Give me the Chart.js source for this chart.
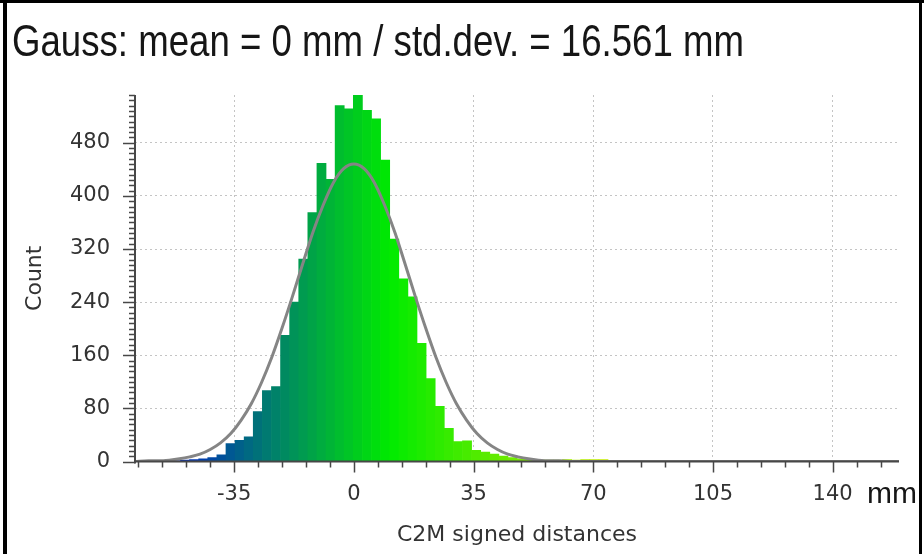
<!DOCTYPE html>
<html>
<head>
<meta charset="utf-8">
<title>C2M histogram</title>
<script src="https://cdn.jsdelivr.net/npm/chart.js@4.4.1/dist/chart.umd.min.js"></script>
<style>
  html, body { margin: 0; padding: 0; background: #fff; }
  #wrap { width: 924px; height: 554px; }
</style>
</head>
<body>
<div id="wrap"><canvas id="hist" width="924" height="554"></canvas></div>
<script>
// histogram bins (mm): first bin starts at binStart, every bin is binWidth wide
var binStart = -64;
var binWidth = 2.66;
var counts = [
  1, 1, 1, 1, 1, 2, 3, 4, 6, 10,
  27, 32, 37, 75, 107, 113, 190, 240, 305, 375,
  449, 425, 536, 531, 552, 529, 516, 454, 335, 275,
  248, 178, 125, 83, 50, 30, 31, 17, 14, 11,
  8, 6, 4, 3, 2, 2, 2, 3, 2, 3,
  3, 3, 1, 1, 1, 1, 1, 1, 1, 1,
  1, 1, 0, 1, 1, 1, 1, 0, 1, 1,
  1, 1, 1, 0, 1, 1, 0, 1, 1, 1,
  1, 1, 1, 1
];

// gauss curve (mm -> count)
var gaussX = [-64, -60, -57, -54, -51, -48, -45, -42, -39, -36, -33, -30, -27, -24, -21, -18, -15, -12, -9, -6, -3,
  0, 3, 6, 9, 12, 15, 18, 21, 24, 27, 30, 33, 36, 39, 42, 45, 48, 51, 54, 57, 60, 64, 80, 100, 120, 140, 159.4];
var gaussY = [0, 1, 1, 2, 4, 7, 11, 18, 28, 42, 62, 87, 119, 157, 201, 248, 297, 345, 386, 420, 441,
  448, 441, 420, 386, 345, 297, 248, 201, 157, 119, 87, 62, 42, 28, 18, 11, 7, 4, 2, 1, 1, 0, 0, 0, 0, 0, 0];

var xTicks = [-35, 0, 35, 70, 105, 140];
var yTicks = [0, 80, 160, 240, 320, 400, 480];
var titleText = "Gauss: mean = 0 mm / std.dev. = 16.561 mm";

var xMin = -64, xMax = 159.4, yMax = 552;

// blue > green > yellow > red colour scale over the whole range
function bgyr(v) {
  var t = (v - xMin) / (xMax - xMin);
  t = Math.max(0, Math.min(1, t));
  var stops = [[0, 0, 255], [0, 255, 0], [255, 255, 0], [255, 0, 0]];
  var s = t * 3;
  var k = Math.min(2, Math.floor(s));
  var f = s - k;
  var a = stops[k], b = stops[k + 1];
  var c = [0, 1, 2].map(function(j) { return Math.round((a[j] + (b[j] - a[j]) * f) * 0.92); });
  return "rgb(" + c.join(",") + ")";
}

var bars = [];
var barColors = [];
for (var i = 0; i < counts.length; i++) {
  var mid = binStart + binWidth * (i + 0.5);
  bars.push({ x: mid, y: counts[i] });
  barColors.push(bgyr(mid));
}
var gauss = gaussX.map(function(x, i) { return { x: x, y: gaussY[i] }; });

var axisFont = { family: "DejaVu Sans", size: 21 };

var decor = {
  id: "decor",
  beforeDraw: function(chart) {
    var ctx = chart.ctx;
    ctx.save();
    ctx.fillStyle = "#fff";
    ctx.fillRect(0, 0, chart.width, chart.height);
    ctx.restore();
  },
  afterDatasetsDraw: function(chart) {
    var ctx = chart.ctx;
    var a = chart.chartArea;
    var sx = chart.scales.x, sy = chart.scales.y;
    ctx.save();
    ctx.strokeStyle = "#474747";
    ctx.lineWidth = 2;
    ctx.beginPath();
    ctx.moveTo(a.left, a.bottom);
    ctx.lineTo(a.right, a.bottom);
    ctx.moveTo(a.left, a.bottom + 2);
    ctx.lineTo(a.left, a.top);
    ctx.stroke();

    ctx.lineWidth = 1.5;
    ctx.beginPath();
    // x ticks: minor every 7 mm, major at labels
    for (var v = -63; v <= xMax; v += 7) {
      var px = Math.round(sx.getPixelForValue(v)) + 0.5;
      var len = xTicks.indexOf(v) >= 0 ? 11 : 6;
      ctx.moveTo(px, a.bottom);
      ctx.lineTo(px, a.bottom + len);
    }
    // y ticks: minor every 8, major at labels
    for (var w = 0; w <= yMax; w += 8) {
      var py = Math.round(sy.getPixelForValue(w)) + 0.5;
      var l2 = yTicks.indexOf(w) >= 0 ? 12 : 6;
      ctx.moveTo(a.left - l2, py);
      ctx.lineTo(a.left, py);
    }
    ctx.stroke();
    ctx.restore();
  },
  afterDraw: function(chart) {
    var ctx = chart.ctx;
    ctx.save();
    // title, squeezed to the reference width
    ctx.fillStyle = "#161616";
    ctx.font = '45px "Liberation Sans Narrow", "Liberation Sans", sans-serif';
    ctx.textBaseline = "alphabetic";
    var tw = ctx.measureText(titleText).width;
    var k = 732 / tw;
    ctx.scale(k, 1);
    ctx.fillText(titleText, 12 / k, 56);
    ctx.setTransform(1, 0, 0, 1, 0, 0);

    ctx.font = '30px "Liberation Sans", sans-serif';
    ctx.fillStyle = "#161616";
    ctx.fillText("mm", 867, 503);

    // frame
    ctx.fillStyle = "#000";
    ctx.fillRect(0, 0, 924, 3);
    ctx.fillRect(3, 0, 4, 554);
    ctx.fillRect(919, 0, 3, 554);
    ctx.restore();
  }
};

var ctx = document.getElementById("hist").getContext("2d");
var chart = new Chart(ctx, {
  type: "bar",
  data: {
    datasets: [
      {
        type: "line",
        data: gauss,
        borderColor: "#858585",
        borderWidth: 3,
        pointRadius: 0,
        cubicInterpolationMode: "monotone",
        order: 0
      },
      {
        type: "bar",
        data: bars,
        backgroundColor: barColors,
        borderWidth: 0,
        barPercentage: 1,
        categoryPercentage: 1,
        order: 1
      }
    ]
  },
  options: {
    responsive: false,
    animation: false,
    layout: { padding: { top: 95, right: 25, left: 0, bottom: 0 } },
    plugins: { legend: { display: false }, tooltip: { enabled: false } },
    scales: {
      x: {
        type: "linear",
        min: xMin,
        max: xMax,
        offset: false,
        afterBuildTicks: function(s) { s.ticks = xTicks.map(function(v) { return { value: v }; }); },
        afterFit: function(s) { s.height = 92.5; },
        grid: { color: "#c4c4c4", drawTicks: false, offset: false, lineWidth: 1 },
        border: { display: false, dash: [2, 3] },
        ticks: { padding: 20, color: "#333", font: axisFont, autoSkip: false, maxRotation: 0 },
        title: { display: true, text: "C2M signed distances", color: "#333", font: { family: "DejaVu Sans", size: 22 }, padding: { top: 0, bottom: 6 } }
      },
      y: {
        min: 0,
        max: yMax,
        afterBuildTicks: function(s) { s.ticks = yTicks.map(function(v) { return { value: v }; }); },
        afterFit: function(s) { s.width = 135; },
        grid: { color: "#c4c4c4", drawTicks: false, lineWidth: 1 },
        border: { display: false, dash: [2, 3] },
        ticks: { padding: 25, color: "#333", font: axisFont },
        title: { display: true, text: "Count", color: "#333", font: { family: "DejaVu Sans", size: 22 }, padding: { top: 22, bottom: 0 } }
      }
    }
  },
  plugins: [decor]
});
</script>
</body>
</html>
